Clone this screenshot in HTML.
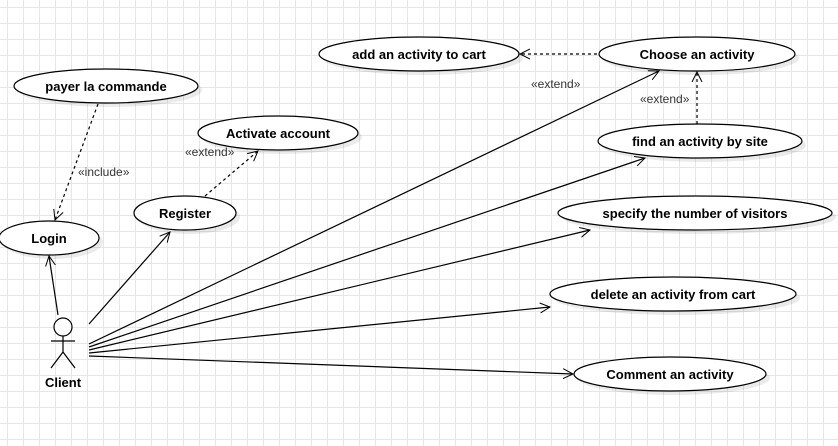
<!DOCTYPE html>
<html><head><style>
body{margin:0;width:838px;height:446px;overflow:hidden;background:#fff;
background-image:linear-gradient(#e6e6e6 1px,transparent 1px),linear-gradient(90deg,#e6e6e6 1px,transparent 1px);
background-size:16px 16px;background-position:7px 7px;}
svg{position:absolute;left:0;top:0}
text{font-family:"Liberation Sans",sans-serif;font-size:13px;fill:#000}
.b{font-weight:bold;text-anchor:middle}
.s{font-size:12px;fill:#333}
</style></head><body>
<svg width="838" height="446" viewBox="0 0 838 446">
<defs><marker id="a" markerWidth="12" markerHeight="12" refX="10" refY="6" orient="auto" markerUnits="userSpaceOnUse"><path d="M0,1 L10,6 L0,11" fill="none" stroke="#000" stroke-width="1"/></marker></defs>
<g fill="#000" opacity="0.08">
<ellipse cx="110" cy="90" rx="92" ry="17"/><ellipse cx="53" cy="242" rx="50" ry="17"/><ellipse cx="189" cy="217" rx="51" ry="17"/><ellipse cx="282" cy="137" rx="80" ry="17"/><ellipse cx="423" cy="58" rx="100" ry="17"/><ellipse cx="701" cy="58" rx="98" ry="17"/><ellipse cx="704" cy="145" rx="102" ry="17"/><ellipse cx="699" cy="217" rx="137" ry="17"/><ellipse cx="677" cy="298" rx="123" ry="17"/><ellipse cx="674" cy="378" rx="96" ry="17"/>
</g>
<g fill="#fff" stroke="#000" stroke-width="1.2">
<ellipse cx="106" cy="86" rx="92" ry="17"/><ellipse cx="49" cy="238" rx="50" ry="17"/><ellipse cx="185" cy="213" rx="51" ry="17"/><ellipse cx="278" cy="133" rx="80" ry="17"/><ellipse cx="419" cy="54" rx="100" ry="17"/><ellipse cx="697" cy="54" rx="98" ry="17"/><ellipse cx="700" cy="141" rx="102" ry="17"/><ellipse cx="695" cy="213" rx="137" ry="17"/><ellipse cx="673" cy="294" rx="123" ry="17"/><ellipse cx="670" cy="374" rx="96" ry="17"/>
</g>
<g class="b">
<text class="b" x="106" y="91">payer la commande</text><text class="b" x="49" y="243">Login</text><text class="b" x="185" y="218">Register</text><text class="b" x="278" y="138">Activate account</text><text class="b" x="419" y="59">add an activity to cart</text><text class="b" x="697" y="59">Choose an activity</text><text class="b" x="700" y="146">find an activity by site</text><text class="b" x="695" y="218">specify the number of visitors</text><text class="b" x="673" y="299">delete an activity from cart</text><text class="b" x="670" y="379">Comment an activity</text>
</g>
<g stroke="#000" stroke-width="1.2" fill="none">
<circle cx="63" cy="327" r="9" fill="#fff"/>
<path d="M63,336 V352 M51,341 H75 M63,352 L51,368 M63,352 L75,368"/>
<g marker-end="url(#a)">
<path d="M58,315 L49,256"/><path d="M89,324 L170,232"/>
<path d="M89,344 L659,71"/><path d="M89,347 L645,158"/><path d="M89,350 L590,230"/><path d="M89,353 L550,307"/><path d="M89,356 L573,374"/>
</g>
<g stroke-dasharray="3,3" marker-end="url(#a)">
<path d="M98,104 L55,220"/><path d="M205,196 L258,151"/><path d="M697,124 L697,72"/><path d="M597,54 L520,54"/>
</g>
</g>
<text class="s" x="78" y="176">«include»</text>
<text class="s" x="185" y="156">«extend»</text>
<text class="s" x="640" y="103">«extend»</text>
<text class="s" x="531" y="88">«extend»</text>
<text class="b" x="63" y="387" style="font-size:13px">Client</text>
</svg>
</body></html>
